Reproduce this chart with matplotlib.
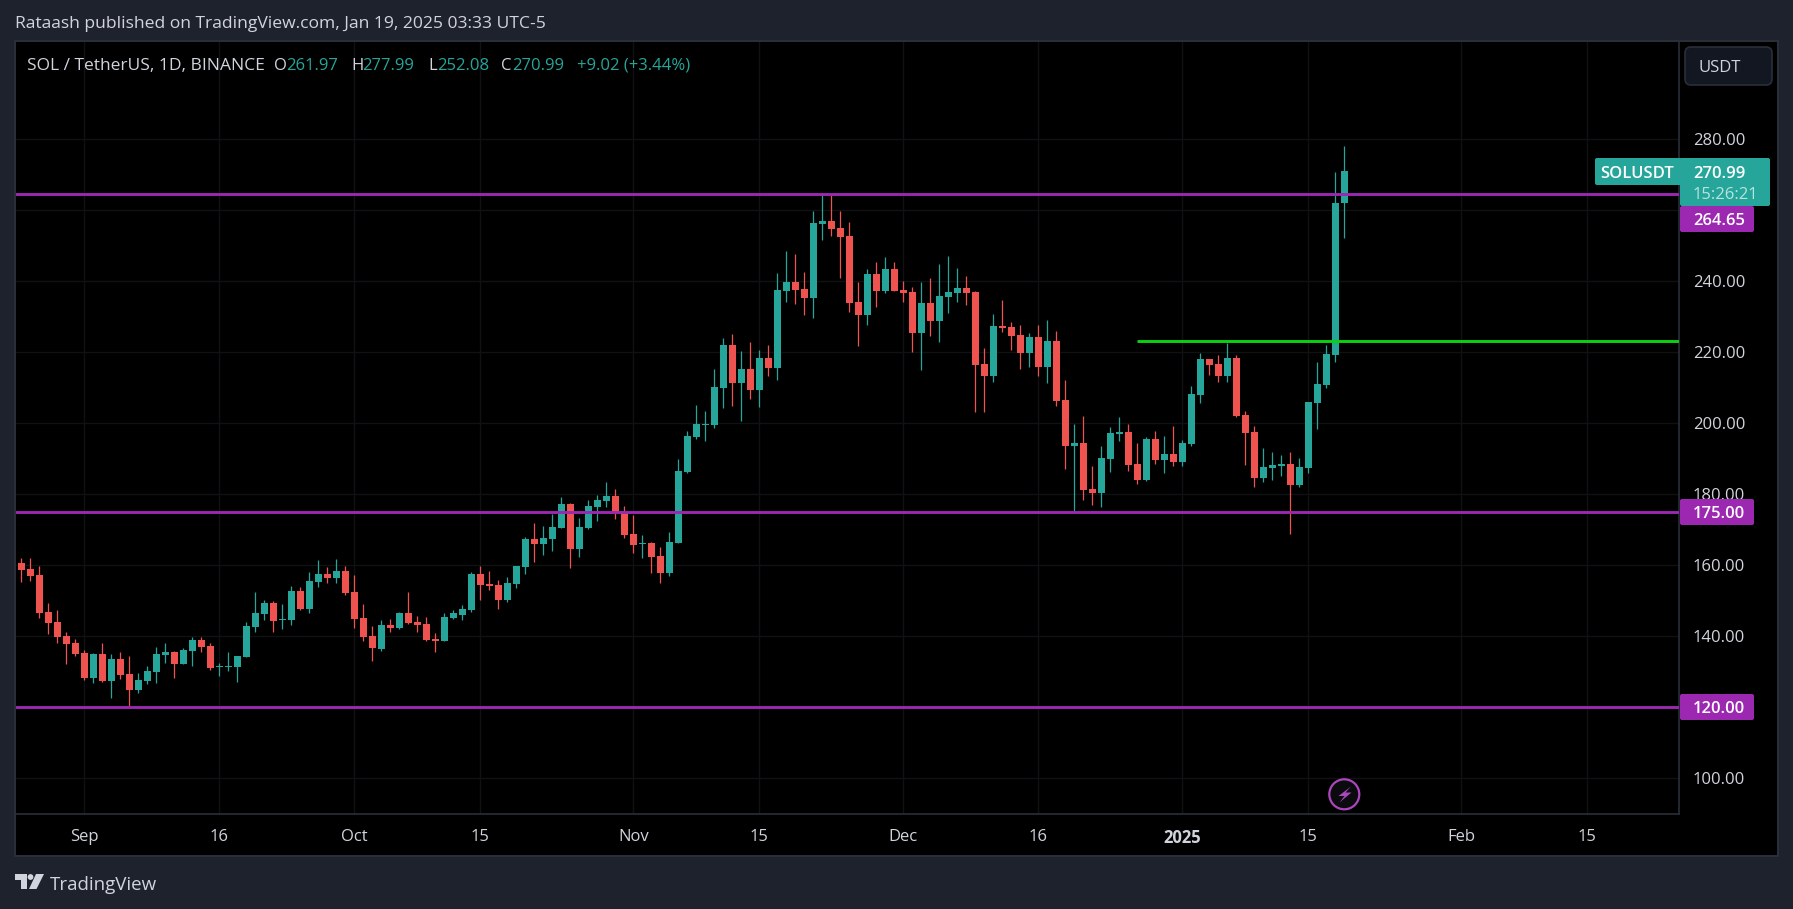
import matplotlib
matplotlib.use('Agg')
import matplotlib.pyplot as plt
import matplotlib.dates as mdates
from matplotlib.patches import Rectangle, FancyBboxPatch, Circle, Polygon
import pandas as pd

plt.rcParams['font.family'] = ['Open Sans', 'DejaVu Sans']

# Daily SOL/USDT candles, Aug 25 2024 -> Jan 19 2025
start_date = '2024-08-25'
opens = [160.6, 159.0, 157.3, 146.8, 144.0, 140.1, 138.1, 135.3, 128.3, 135.0, 127.4, 133.6,
         129.4, 124.9, 127.4, 129.9, 134.7, 135.6, 132.2, 135.9, 139.0, 137.3, 131.4, 131.4,
         131.4, 134.2, 142.6, 146.3, 149.4, 144.7, 144.6, 152.8, 147.7, 155.3, 157.5, 156.4,
         158.4, 152.5, 145.2, 140.1, 136.4, 143.2, 142.3, 146.6, 144.0, 143.5, 139.2, 138.7,
         145.2, 146.0, 147.4, 157.6, 154.7, 154.5, 150.2, 154.7, 159.5, 167.4, 166.0, 167.4,
         170.5, 177.3, 164.6, 170.5, 176.4, 178.1, 179.5, 175.0, 168.8, 166.0, 166.3, 162.6,
         157.8, 166.3, 186.3, 196.1, 199.5, 199.5, 210.0, 222.1, 211.4, 215.3, 209.4, 218.4,
         215.6, 237.3, 239.8, 237.8, 235.3, 256.2, 257.0, 255.0, 252.8, 234.2, 230.5, 242.1,
         237.3, 243.5, 237.6, 237.0, 225.4, 233.9, 228.8, 235.6, 236.7, 238.1, 237.0, 216.7,
         213.3, 227.4, 227.1, 224.9, 219.8, 224.3, 215.9, 223.2, 206.6, 193.6, 194.4, 181.5,
         180.4, 189.9, 197.0, 197.5, 188.5, 184.0, 195.6, 189.7, 191.4, 189.1, 194.2, 208.0,
         218.1, 216.7, 213.3, 218.4, 202.3, 197.5, 184.6, 187.4, 188.0, 188.5, 182.6, 187.4,
         205.7, 210.8, 219.2, 261.97]
highs = [162.0, 162.0, 159.8, 149.4, 147.4, 141.2, 139.2, 136.1, 135.3, 138.1, 135.0, 135.6,
         134.4, 129.7, 131.6, 137.0, 138.1, 135.9, 136.7, 139.8, 139.8, 138.1, 132.5, 135.6,
         134.4, 144.0, 152.5, 150.2, 149.9, 149.1, 154.2, 153.9, 158.1, 161.5, 159.5, 161.8,
         159.8, 157.3, 149.1, 142.9, 144.6, 144.9, 146.8, 152.5, 145.7, 145.4, 140.8, 146.6,
         147.4, 148.8, 158.1, 159.8, 158.4, 155.9, 156.7, 159.8, 168.0, 171.9, 171.1, 174.4,
         179.2, 177.6, 173.3, 178.4, 179.8, 183.5, 181.5, 176.7, 174.2, 168.5, 166.6, 165.2,
         169.4, 189.9, 197.8, 205.2, 203.5, 215.3, 224.0, 225.2, 220.4, 222.9, 220.7, 222.1,
         242.3, 248.5, 247.7, 242.6, 259.8, 264.6, 264.3, 259.8, 256.7, 239.8, 243.5, 245.4,
         246.9, 245.4, 240.1, 238.4, 239.8, 240.9, 244.9, 247.1, 243.8, 241.5, 237.3, 221.2,
         230.8, 234.7, 228.5, 227.7, 225.4, 227.7, 229.1, 226.0, 212.2, 199.8, 202.0, 188.0,
         193.6, 199.0, 201.8, 199.8, 194.4, 196.1, 197.8, 196.4, 199.2, 195.3, 210.5, 219.8,
         218.1, 219.2, 222.6, 219.2, 203.5, 199.2, 193.0, 191.9, 191.1, 191.9, 190.2, 206.0,
         217.3, 222.1, 270.8, 277.99]
lows = [155.3, 155.6, 145.2, 140.6, 138.1, 132.2, 134.4, 127.7, 126.8, 127.1, 122.6, 128.0,
        120.2, 124.0, 126.6, 126.8, 132.5, 128.3, 132.2, 131.6, 135.6, 130.5, 128.8, 130.2,
        127.1, 134.2, 141.2, 144.6, 141.2, 142.1, 143.2, 147.4, 146.6, 153.9, 155.0, 155.0,
        151.6, 142.3, 138.7, 133.0, 135.9, 141.2, 142.1, 143.5, 141.2, 138.7, 135.6, 138.7,
        144.9, 144.6, 146.8, 150.2, 153.0, 147.7, 149.7, 153.6, 157.6, 160.9, 162.9, 164.0,
        170.5, 159.2, 162.3, 170.2, 172.5, 176.4, 173.0, 167.7, 163.5, 162.1, 157.8, 155.0,
        157.0, 166.3, 186.0, 195.6, 195.0, 198.7, 204.3, 204.9, 200.7, 206.9, 204.6, 213.3,
        212.2, 234.2, 233.6, 230.5, 229.7, 251.6, 252.8, 240.9, 231.4, 221.8, 227.7, 232.8,
        236.7, 237.3, 234.2, 220.1, 215.0, 224.6, 222.9, 231.1, 234.2, 233.3, 203.2, 203.2,
        211.6, 225.7, 220.6, 215.3, 215.9, 213.3, 211.3, 204.9, 187.1, 175.3, 178.4, 177.0,
        176.4, 186.3, 195.0, 186.6, 182.9, 183.7, 188.5, 186.0, 188.0, 188.0, 193.6, 205.7,
        213.6, 211.6, 211.6, 201.8, 188.3, 182.1, 183.5, 184.0, 185.2, 168.8, 182.1, 186.0,
        198.4, 209.9, 217.3, 252.08]
closes = [158.7, 157.0, 146.6, 143.7, 139.8, 137.8, 135.0, 128.3, 135.0, 127.4, 133.6, 129.1,
          124.9, 127.7, 130.2, 135.0, 135.6, 132.2, 136.1, 139.0, 137.0, 131.1, 131.6, 131.6,
          134.4, 142.9, 146.6, 149.4, 144.3, 144.9, 152.8, 147.7, 155.6, 157.5, 156.4, 158.4,
          152.2, 144.9, 139.8, 136.7, 143.2, 142.3, 146.6, 143.7, 143.2, 139.0, 138.7, 145.4,
          146.6, 147.7, 157.6, 154.5, 154.2, 150.2, 155.0, 159.8, 167.4, 166.0, 167.7, 170.8,
          177.3, 164.6, 170.8, 176.7, 178.4, 179.5, 174.7, 168.5, 165.7, 166.3, 162.3, 157.8,
          166.6, 186.6, 196.4, 199.8, 199.8, 210.2, 222.1, 211.4, 215.3, 209.4, 218.4, 215.6,
          237.6, 239.8, 237.6, 235.3, 256.4, 257.0, 254.7, 252.5, 233.9, 230.5, 242.1, 237.3,
          243.5, 237.3, 236.7, 225.4, 233.9, 228.8, 235.9, 237.0, 238.1, 236.7, 216.4, 213.3,
          227.4, 226.9, 224.6, 219.8, 224.3, 215.9, 223.2, 206.3, 193.6, 194.4, 181.2, 180.4,
          190.2, 197.3, 197.5, 188.3, 184.0, 195.6, 189.7, 191.4, 189.1, 194.4, 208.3, 218.1,
          216.4, 213.3, 218.4, 202.0, 197.3, 184.6, 187.7, 188.3, 188.5, 182.6, 187.7, 206.0,
          211.1, 219.5, 262.1, 270.99]

price_ticks = [100, 120, 140, 160, 180, 200, 220, 240, 260, 280]
# 260.00 sits behind the 264.65 tag in the reference, so it has no visible label
price_labels = ['100.00', '120.00', '140.00', '160.00', '180.00', '200.00', '220.00', '240.00', '', '280.00']
date_ticks = ['2024-09-01', '2024-09-16', '2024-10-01', '2024-10-15', '2024-11-01', '2024-11-15',
              '2024-12-01', '2024-12-16', '2025-01-01', '2025-01-15', '2025-02-01', '2025-02-15']
date_labels = ['Sep', '16', 'Oct', '15', 'Nov', '15', 'Dec', '16', '2025', '15', 'Feb', '15']
support_levels = [264.65, 175.00, 120.00]
breakout_level = 223.1
breakout_start = '2024-12-27'

UP = '#26a69a'
DOWN = '#ef5350'
PURPLE = '#9c27b0'
GREEN = '#0cd110'
FRAME = '#1e222d'
LINE = '#2a2e39'
TEXT = '#d1d4dc'

W, H = 1793, 909
fig = plt.figure(figsize=(W / 100, H / 100), dpi=100, facecolor=FRAME)

# pixel-space layer behind the chart
bg = fig.add_axes([0, 0, 1, 1], zorder=0)
bg.set_xlim(0, W)
bg.set_ylim(H, 0)
bg.axis('off')
bg.add_patch(Rectangle((15, 41), 1763, 815, facecolor='black', edgecolor=LINE, linewidth=1.5))

# main chart
ax = fig.add_axes([16 / W, (H - 814) / H, (1679 - 16) / W, (814 - 42) / H], zorder=1, facecolor='black')
dates = mdates.date2num(pd.date_range(start_date, periods=len(opens), freq='D'))
tick_nums = mdates.date2num(pd.to_datetime(date_ticks))
sep1 = tick_nums[0]
ax.set_xlim(sep1 - 7.59, sep1 + 177.19)
ax.set_ylim(89.94, 307.4)

ax.set_axisbelow(True)
ax.grid(True, color='#101114', linewidth=1)

colors = [UP if c >= o else DOWN for o, c in zip(opens, closes)]
ax.vlines(dates, lows, highs, colors=colors, linewidth=0.9, zorder=3)
bottoms = [min(o, c) for o, c in zip(opens, closes)]
heights = [max(abs(c - o), 0.3) for o, c in zip(opens, closes)]
ax.bar(dates, heights, bottom=bottoms, width=7 / 9, color=colors, linewidth=0, zorder=4, antialiased=False)

for level in support_levels:
    ax.axhline(level, color=PURPLE, linewidth=2.1, zorder=5)
ax.hlines(breakout_level, mdates.date2num(pd.Timestamp(breakout_start)), sep1 + 177.19,
          color=GREEN, linewidth=2.1, zorder=5)

ax.yaxis.tick_right()
ax.set_yticks(price_ticks)
ax.set_yticklabels(price_labels)
ax.set_xticks(tick_nums)
ax.set_xticklabels(date_labels)
ax.tick_params(axis='both', length=0, labelcolor=TEXT, labelsize=12)
ax.tick_params(axis='y', pad=10)
ax.tick_params(axis='x', pad=11)
ax.get_xticklabels()[8].set_fontweight('bold')
for name in ['top', 'left']:
    ax.spines[name].set_visible(False)
for name in ['right', 'bottom']:
    ax.spines[name].set_color(LINE)
    ax.spines[name].set_linewidth(1.2)

# pixel-space layer on top: header, price labels, logo
ov = fig.add_axes([0, 0, 1, 1], zorder=2)
ov.set_xlim(0, W)
ov.set_ylim(H, 0)
ov.axis('off')
ov.patch.set_alpha(0)


def box(x0, y0, x1, y1, color):
    ov.add_patch(FancyBboxPatch((x0 + 2, y0 + 2), x1 - x0 - 4, y1 - y0 - 4, boxstyle='round,pad=2,rounding_size=2',
                                facecolor=color, edgecolor='none'))


def label(x, y, s, color='white', size=12, **kw):
    ov.text(x, y, s, color=color, fontsize=size, va='center_baseline', ha='left', **kw)


label(15, 22.5, 'Rataash published on TradingView.com, Jan 19, 2025 03:33 UTC-5', color=TEXT, size=12.6)

label(27, 64, 'SOL / TetherUS, 1D, BINANCE', color=TEXT, size=12.5)
for x, s in [(274, 'O'), (351, 'H'), (428, 'L'), (501, 'C')]:
    label(x, 64, s, color=TEXT, size=12)
for x, s in [(286, '261.97'), (362, '277.99'), (437, '252.08'), (512, '270.99'), (577, '+9.02 (+3.44%)')]:
    label(x, 64, s, color=UP, size=12)

# USDT button
ov.add_patch(FancyBboxPatch((1689, 51), 79, 30, boxstyle='round,pad=4,rounding_size=6',
                            facecolor='#131722', edgecolor=LINE, linewidth=1.2))
label(1699, 65.5, 'USDT', color=TEXT, size=12)

box(1595, 158, 1682, 185, UP)
box(1680, 158, 1770, 206, UP)
label(1600, 171.5, 'SOLUSDT', size=12, fontweight='semibold')
label(1693, 171.5, '270.99', size=12, fontweight='semibold')
label(1693, 193, '15:26:21', color='#b9e3df', size=12)

box(1680, 206, 1754, 232, PURPLE)
label(1693, 219, '264.65', size=12, fontweight='semibold')
box(1680, 499, 1754, 525, PURPLE)
label(1693, 512, '175.00', size=12, fontweight='semibold')
box(1680, 694, 1754, 720, PURPLE)
label(1693, 707, '120.00', size=12, fontweight='semibold')

# lightning badge
ov.add_patch(Circle((1344.3, 794.3), 15, facecolor='#0a0a0f', edgecolor='#ab47bc', linewidth=1.6))
ov.add_patch(Polygon([(1351, 786.5), (1338.5, 796), (1344.5, 796), (1339.5, 802.5), (1351.5, 792.5),
                      (1345.5, 792.5)], closed=True, facecolor='#ab47bc', edgecolor='none'))

# TradingView logo
LOGO = '#d1d4dc'
ov.add_patch(Polygon([(15, 874), (27, 874), (27, 889), (20.5, 889), (20.5, 880), (15, 880)], closed=True,
                     facecolor=LOGO, edgecolor='none'))
ov.add_patch(Circle((30.5, 877), 2.9, facecolor=LOGO, edgecolor='none'))
ov.add_patch(Polygon([(36, 874), (44, 874), (36.5, 889), (29, 889)], closed=True, facecolor=LOGO, edgecolor='none'))
label(50, 883, 'TradingView', color=LOGO, size=13.5)

fig.savefig('out.png', dpi=100, facecolor=FRAME)
